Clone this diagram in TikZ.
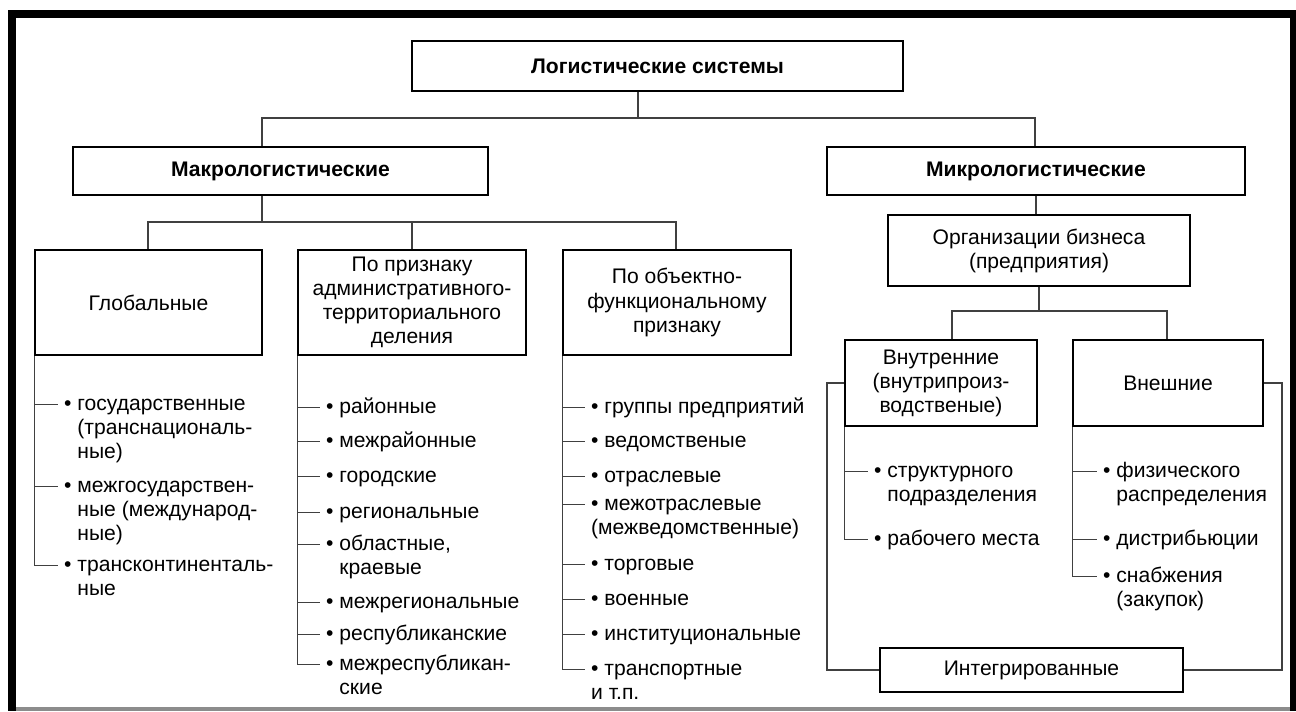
\documentclass[tikz,border=0pt]{standalone}
\usepackage{fontspec}
\setmainfont{Liberation Sans}
\newcommand{\bpad}{\phantom{•~}}
\newcommand{\itm}[1]{\begin{tabular}[t]{@{}l@{}}#1\end{tabular}}
\begin{document}
\begin{tikzpicture}[x=0.02cm, y=-0.02cm, font=\fontsize{12}{13.7}\selectfont,
            main/.style = {draw, line width=1.1pt, align=center, minimum height=2.1cm},
            head/.style = {main, font=\fontsize{12}{13.7}\selectfont\bfseries, minimum height=0.96cm},
            item/.style = {anchor=base west},
            wire/.style = {draw=black!75, line width=0.6pt}]
            \useasboundingbox (0,0) rectangle (1296,711);
            \fill (8,10) rectangle (1296,18);
            \fill (8,10) rectangle (16,711);
            \fill (1290,10) rectangle (1296,711);
            \fill[black!45] (16,707) rectangle (1290,711);

            \node[head, minimum width=9.82cm, minimum height=1cm] (1) at (657.5,66) {Логистические системы};
            \node[head, minimum width=8.3cm] (2) at (280.5,171) {Макрологистические};
            \node[head, minimum width=8.36cm] (3) at (1036,171) {Микрологистические};
            \node[main, minimum width=4.54cm] (4) at (148.5,302.5) {Глобальные};
            \node[main, minimum width=4.56cm] (5) at (412,302.5) {По признаку\\административного-\\территориального\\деления};
            \node[main, minimum width=4.56cm] (6) at (677,302.5) {По объектно-\\функциональному\\признаку};
            \node[main, minimum width=6.04cm, minimum height=1.42cm] (7) at (1039,250.5) {Организации бизнеса\\(предприятия)};
            \node[main, minimum width=3.84cm, minimum height=1.72cm] (8) at (941,383) {Внутренние\\(внутрипроиз-\\водственые)};
            \node[main, minimum width=3.8cm, minimum height=1.72cm] (9) at (1168,383) {Внешние};
            \node[main, minimum width=6.06cm, minimum height=0.88cm] (10) at (1031.5,670) {Интегрированные};

            \node[item] (g1) at (58,410) {\itm{• государственные\\\bpad(транснациональ-\\\bpad ные)}};
            \node[item] (g2) at (58,492) {\itm{• межгосударствен-\\\bpad ные (международ-\\\bpad ные)}};
            \node[item] (g3) at (58,571) {\itm{• трансконтиненталь-\\\bpad ные}};

            \node[item] (a1) at (320,413) {• районные};
            \node[item] (a2) at (320,447) {• межрайонные};
            \node[item] (a3) at (320,482) {• городские};
            \node[item] (a4) at (320,518) {• региональные};
            \node[item] (a5) at (320,550) {\itm{• областные,\\\bpad краевые}};
            \node[item] (a6) at (320,608) {• межрегиональные};
            \node[item] (a7) at (320,640) {• республиканские};
            \node[item] (a8) at (320,670) {\itm{• межреспубликан-\\\bpad ские}};

            \node[item] (o1) at (585,413) {• группы предприятий};
            \node[item] (o2) at (585,447) {• ведомственые};
            \node[item] (o3) at (585,482) {• отраслевые};
            \node[item] (o4) at (585,510) {\itm{• межотраслевые\\(межведомственные)}};
            \node[item] (o5) at (585,570) {• торговые};
            \node[item] (o6) at (585,605) {• военные};
            \node[item] (o7) at (585,640) {• институциональные};
            \node[item] (o8) at (585,675) {\itm{• транспортные\\и т.п.}};

            \node[item] (i1) at (868,477) {\itm{• структурного\\\bpad подразделения}};
            \node[item] (i2) at (868,545) {• рабочего места};

            \node[item] (e1) at (1097,477) {\itm{• физического\\\bpad распределения}};
            \node[item] (e2) at (1097,545) {• дистрибьюции};
            \node[item] (e3) at (1097,582) {\itm{• снабжения\\\bpad (закупок)}};

            \coordinate (t) at (638,118);
            \coordinate (t1) at (262,118);
            \coordinate (t2) at (1035,118);
            \coordinate (m) at (262,222);
            \coordinate (m1) at (148,222);
            \coordinate (m3) at (676,222);
            \coordinate (b1) at (952,311);
            \coordinate (b2) at (1167,311);
            \coordinate (l) at (827,670);
            \coordinate (r) at (1282,670);

            \path[wire] (t |- 1.south) edge (t);
            \draw[wire] (t1 |- 2.north) -- (t1) -- (t2) -- (t2 |- 3.north);
            \path[wire] (m |- 2.south) edge (m);
            \draw[wire] (m1 |- 4.north) -- (m1) -- (m3) -- (m3 |- 6.north);
            \path[wire] (5.north) edge (5.north |- m);
            \path[wire] (3.south) edge (3.south |- 7.north);
            \path[wire] (7.south) edge (7.south |- b1);
            \draw[wire] (b1 |- 8.north) -- (b1) -- (b2) -- (b2 |- 9.north);
            \draw[wire] (8.west) -| (l) -- (10.west);
            \draw[wire] (9.east) -| (r) -- (10.east);

            \foreach \n in {g1,g2,g3} \draw[wire] (4.south west) |- ([yshift=.3em]\n.base west);
            \foreach \n in {a1,a2,a3,a4,a5,a6,a7,a8} \draw[wire] (5.south west) |- ([yshift=.3em]\n.base west);
            \foreach \n in {o1,o2,o3,o4,o5,o6,o7,o8} \draw[wire] (6.south west) |- ([yshift=.3em]\n.base west);
            \foreach \n in {i1,i2} \draw[wire] (8.south west) |- ([yshift=.3em]\n.base west);
            \foreach \n in {e1,e2,e3} \draw[wire] (9.south west) |- ([yshift=.3em]\n.base west);
        \end{tikzpicture}
\end{document}
